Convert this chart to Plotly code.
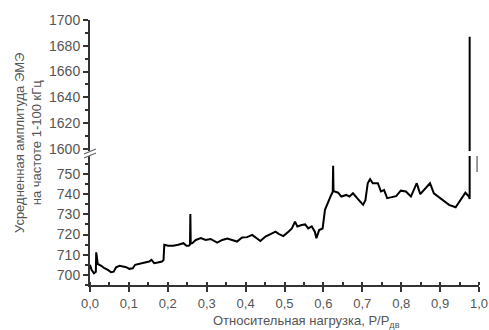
import plotly.graph_objects as go

load = [0.000, 0.004, 0.010, 0.015, 0.016, 0.018, 0.020, 0.029, 0.037, 0.046, 0.054, 0.061,
        0.067, 0.076, 0.084, 0.093, 0.101, 0.110, 0.116, 0.127, 0.140, 0.152, 0.158, 0.165,
        0.174, 0.185, 0.189, 0.191, 0.201, 0.214, 0.227, 0.240, 0.248, 0.254, 0.257, 0.258,
        0.259, 0.263, 0.272, 0.285, 0.297, 0.310, 0.327, 0.340, 0.353, 0.366, 0.378, 0.391,
        0.404, 0.417, 0.430, 0.438, 0.451, 0.464, 0.477, 0.485, 0.497, 0.510, 0.519, 0.527,
        0.533, 0.544, 0.553, 0.561, 0.570, 0.578, 0.582, 0.589, 0.598, 0.604, 0.612, 0.620,
        0.624, 0.625, 0.626, 0.629, 0.638, 0.646, 0.659, 0.667, 0.676, 0.689, 0.702, 0.708,
        0.714, 0.720, 0.727, 0.740, 0.748, 0.756, 0.764, 0.776, 0.787, 0.799, 0.812, 0.825,
        0.840, 0.849, 0.859, 0.874, 0.884, 0.897, 0.910, 0.923, 0.940, 0.952, 0.965, 0.974,
        0.976, 0.976]
amplitude = [705.0, 702.5, 700.8, 701.6, 711.2, 706.0, 705.4, 704.5, 703.3, 702.5, 701.3, 701.6,
             703.8, 704.5, 704.1, 703.8, 703.0, 703.3, 705.0, 705.4, 705.8, 706.6, 707.4, 705.8,
             706.1, 706.6, 707.4, 714.9, 714.4, 714.4, 714.9, 715.7, 714.4, 714.4, 715.0, 730.2,
             715.5, 715.7, 717.3, 718.2, 717.3, 717.8, 716.0, 717.3, 718.0, 717.3, 716.5, 718.5,
             718.7, 719.8, 718.2, 716.8, 719.0, 720.3, 721.4, 720.3, 719.2, 721.4, 723.0, 726.4,
             724.0, 724.7, 725.0, 723.0, 724.0, 721.4, 718.2, 722.2, 723.0, 732.2, 736.3, 739.6,
             741.0, 754.0, 741.5, 741.2, 740.7, 738.8, 739.6, 738.8, 740.4, 737.5, 734.7, 737.0,
             745.4, 747.4, 745.4, 745.4, 741.3, 742.0, 738.0, 738.5, 739.0, 741.7, 741.3, 738.8,
             745.4, 740.0, 742.0, 745.4, 740.4, 738.5, 737.0, 734.7, 733.5, 737.2, 740.7, 738.8,
             737.6, 1687.0]

x_ticks = [0.0, 0.1, 0.2, 0.3, 0.4, 0.5, 0.6, 0.7, 0.8, 0.9, 1.0]
x_tick_labels = ["0,0", "0,1", "0,2", "0,3", "0,4", "0,5", "0,6", "0,7", "0,8", "0,9", "1,0"]
y_low_ticks = [700, 710, 720, 730, 740, 750]
y_high_ticks = [1600, 1620, 1640, 1660, 1680, 1700]

FONT = "Liberation Sans, Arial, sans-serif"
TXT = "#555555"
AX = "#333333"

fig = go.Figure()
line = dict(color="black", width=2)
fig.add_trace(go.Scatter(x=load, y=amplitude, mode="lines", line=line, xaxis="x", yaxis="y",
                         showlegend=False, hoverinfo="skip"))
fig.add_trace(go.Scatter(x=load, y=amplitude, mode="lines", line=line, xaxis="x", yaxis="y2",
                         showlegend=False, hoverinfo="skip"))

common_y = dict(showline=True, linecolor=AX, linewidth=2, ticks="outside", ticklen=5,
                tickwidth=1.5, tickcolor=AX, showgrid=False, zeroline=False,
                tickfont=dict(family=FONT, size=14, color=TXT), anchor="x")

W = 489 - 90 - 10

fig.update_layout(
    width=489, height=330,
    margin=dict(l=90, r=10, t=20, b=45),
    paper_bgcolor="white", plot_bgcolor="white",
    xaxis=dict(range=[0, 1.0], tickvals=x_ticks, ticktext=x_tick_labels, showline=True,
               linecolor=AX, linewidth=2, ticks="outside", ticklen=5, tickwidth=1.5,
               tickcolor=AX, showgrid=False, zeroline=False, ticklabeloverflow="allow",
               automargin=False,
               minor=dict(dtick=0.05, ticks="inside", ticklen=3, tickcolor=AX),
               tickfont=dict(family=FONT, size=13, color=TXT)),
    yaxis=dict(domain=[0, 0.487], range=[695, 758.9], tickvals=y_low_ticks,
               minor=dict(dtick=5, ticks="outside", ticklen=3, tickcolor=AX), **common_y),
    yaxis2=dict(domain=[0.506, 1], range=[1598.5, 1700], tickvals=y_high_ticks,
                minor=dict(dtick=10, ticks="outside", ticklen=3, tickcolor=AX), **common_y),
)

# axis break marks
for dy in (0.0, 4.0):
    fig.add_shape(type="line", xref="paper", yref="paper",
                  x0=-6 / W, x1=6 / W,
                  y0=(285 - 154 - dy) / 265, y1=(285 - 149 - dy) / 265,
                  line=dict(color="#666666", width=1.3))
# small break indicator near the end of the curve
fig.add_shape(type="line", xref="x", yref="y", x0=0.995, x1=0.995, y0=758.9, y1=750.9,
              line=dict(color="#777777", width=1.5))

fig.add_annotation(text="Усредненная амплитуда ЭМЭ<br>на частоте 1-100 кГц",
                   xref="paper", yref="paper", x=-62 / W, y=(285 - 143) / 265,
                   xanchor="center", yanchor="middle", textangle=-90, showarrow=False,
                   font=dict(family=FONT, size=13, color=TXT))
fig.add_annotation(text="Относительная нагрузка, P/P<sub>дв</sub>",
                   xref="paper", yref="paper", x=(306 - 90) / W, y=(285 - 321) / 265,
                   xanchor="center", yanchor="middle", showarrow=False,
                   font=dict(family=FONT, size=13, color=TXT))

fig.write_html("out.html")
